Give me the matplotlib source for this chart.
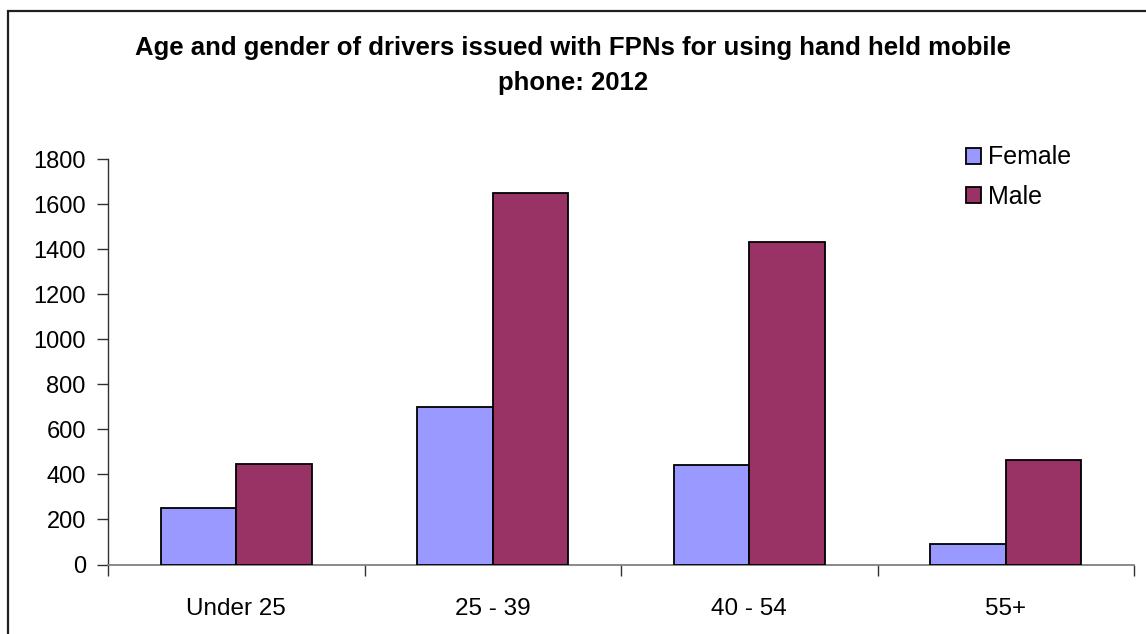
import numpy as np
import matplotlib
matplotlib.use("Agg")
import matplotlib.pyplot as plt
from matplotlib.patches import Rectangle

plt.rcParams['font.family'] = ['Liberation Sans', 'DejaVu Sans']

# data
ages = ["Under 25", "25 - 39", "40 - 54", "55+"]
female = [250, 700, 440, 90]
male = [445, 1650, 1430, 465]

female_col = '#9999FF'
male_col = '#993366'

fig = plt.figure(figsize=(11.46, 6.34), dpi=100)
# outer chart border (right/bottom edges fall outside the picture)
fig.patches.append(Rectangle((8 / 1146, -0.1), 1.2, (634 - 11) / 634 + 0.1,
                             transform=fig.transFigure, fill=False,
                             edgecolor='#202020', linewidth=1.6))

ax = fig.add_axes([108 / 1146, 69.5 / 634, 1026 / 1146, 405.5 / 634])

x = np.arange(len(ages)) + 0.5
w = 0.294
ax.bar(x - w / 2, female, w, color=female_col, edgecolor='black',
       linewidth=1.3, label='Female', zorder=3)
ax.bar(x + w / 2, male, w, color=male_col, edgecolor='black',
       linewidth=1.3, label='Male', zorder=3)

ax.set_xlim(0, len(ages))
ax.set_ylim(0, 1800)
ax.set_yticks(np.arange(0, 1801, 200))
ax.set_xticks(x)
ax.set_xticklabels(ages)
ax.set_xticks(np.arange(0, len(ages) + 1), minor=True)
ax.tick_params(axis='x', which='major', length=0, pad=24, labelsize=17.5)
ax.tick_params(axis='x', which='minor', length=8, width=1, color='#303030', direction='out')
ax.tick_params(axis='y', length=8, width=1, color='#303030', pad=8, labelsize=17)

for s in ['top', 'right']:
    ax.spines[s].set_visible(False)
ax.spines['left'].set_color('#303030')
ax.spines['bottom'].set_color('#808080')
ax.spines['left'].set_linewidth(1)
ax.spines['bottom'].set_linewidth(1.3)

fig.text(0.5, 1 - 48 / 634, "Age and gender of drivers issued with FPNs for using hand held mobile",
         ha='center', va='center', fontsize=18.5, fontweight='bold')
fig.text(0.5, 1 - 83 / 634, "phone: 2012", ha='center', va='center',
         fontsize=18.5, fontweight='bold')

ax.legend(loc='upper left', bbox_to_anchor=(953 / 1146, 1 - 133 / 634),
          bbox_transform=fig.transFigure, frameon=False, fontsize=18,
          handlelength=0.6, handleheight=0.6, handletextpad=0.3,
          labelspacing=0.6, borderpad=0)

fig.savefig("out.png", dpi=100)
